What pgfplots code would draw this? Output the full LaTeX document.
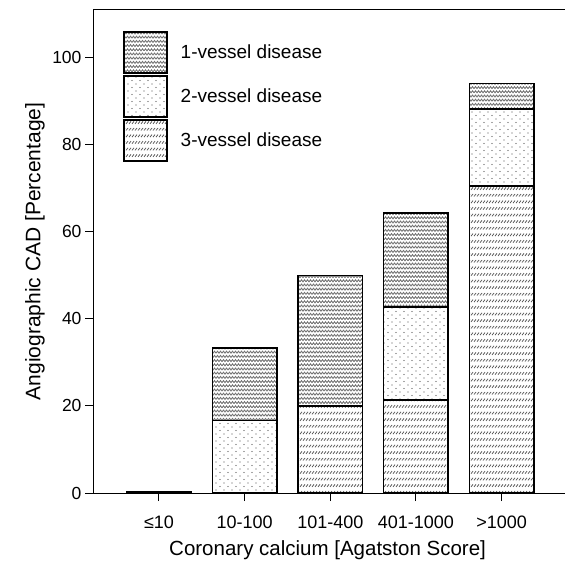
\documentclass[border=0pt]{standalone}
\usepackage{fontspec}
\setmainfont{Liberation Sans}
\usepackage{pgfplots}
\pgfplotsset{compat=1.18}
\usetikzlibrary{patterns}

% hatch patterns of the three groups
\pgfdeclarepatternformonly{zig}{\pgfqpoint{-1pt}{-1pt}}{\pgfqpoint{7pt}{5pt}}{\pgfqpoint{6pt}{4.2pt}}{
  \pgfsetlinewidth{0.85pt}
  \pgfpathmoveto{\pgfqpoint{0pt}{1pt}}
  \pgfpathlineto{\pgfqpoint{1.5pt}{3pt}}
  \pgfpathlineto{\pgfqpoint{3pt}{1pt}}
  \pgfpathlineto{\pgfqpoint{4.5pt}{3pt}}
  \pgfpathlineto{\pgfqpoint{6pt}{1pt}}
  \pgfusepath{stroke}
}
\pgfdeclarepatternformonly{dotsp}{\pgfqpoint{-1pt}{-1pt}}{\pgfqpoint{9pt}{8pt}}{\pgfqpoint{8pt}{7pt}}{
  \pgfpathcircle{\pgfqpoint{0pt}{0pt}}{0.55pt}
  \pgfpathcircle{\pgfqpoint{4pt}{3.5pt}}{0.55pt}
  \pgfusepath{fill}
}
\pgfdeclarepatternformonly{hsh}{\pgfqpoint{-1pt}{-1pt}}{\pgfqpoint{4pt}{7pt}}{\pgfqpoint{3pt}{6.6pt}}{
  \pgfsetlinewidth{0.75pt}
  \pgfpathmoveto{\pgfqpoint{0pt}{0.5pt}}
  \pgfpathlineto{\pgfqpoint{2pt}{3pt}}
  \pgfusepath{stroke}
}

\begin{document}
\begin{tikzpicture}
\useasboundingbox (0,0) rectangle (565pt,560pt);
\begin{axis}[
    at={(93pt,67pt)}, anchor=south west,
    scale only axis,
    width=472pt, height=483pt,
    ybar stacked,
    bar width=64.5pt,
    xmin=-0.77, xmax=4.74,
    ymin=0, ymax=111,
    clip=false,
    axis x line*=box, axis y line*=left,
    axis line style={line width=1pt},
    xtick=data,
    xticklabels={≤10,10-100,101-400,401-1000,>1000},
    ytick={0,20,...,100},
    tick align=outside,
    major tick length=8pt,
    tick style={line width=1pt, black},
    xtick pos=bottom, ytick pos=left,
    /pgf/number format/assume math mode=true,
    xticklabel style={font=\fontsize{18}{20}\selectfont, yshift=-11pt},
    yticklabel style={font=\fontsize{17.5}{20}\selectfont},
    xlabel={Coronary calcium [Agatston Score]},
    ylabel={Angiographic CAD [Percentage]},
    xlabel style={font=\fontsize{20.5}{24}\selectfont, at={(axis description cs:0.497,-0.119)}, anchor=center},
    ylabel style={font=\fontsize{21}{24}\selectfont, at={(axis description cs:-0.123,0.5)}, anchor=center},
    legend image code/.code={\draw[#1] (0pt,-20.5pt) rectangle (43pt,20.5pt);},
    reverse legend,
    legend style={draw=none, fill=none, inner sep=0pt,
        at={(axis description cs:0.0636,0.956)}, anchor=north west,
        font=\fontsize{19}{22}\selectfont, row sep=1.5pt, column sep=13pt,
        nodes={inner sep=0pt}},
    every axis plot/.append style={draw=black, line width=1.5pt},
]
% 3-vessel disease
\addplot[pattern=hsh, pattern color=black!65] coordinates {(0,0.3) (1,0) (2,20) (3,21.4) (4,70.6)};
% 2-vessel disease
\addplot[pattern=dotsp, pattern color=black!70] coordinates {(0,0) (1,16.7) (2,0) (3,21.4) (4,17.6)};
% 1-vessel disease
\addplot[pattern=zig, pattern color=black!55] coordinates {(0,0) (1,16.6) (2,30) (3,21.5) (4,5.9)};
\legend{3-vessel disease,2-vessel disease,1-vessel disease}
\end{axis}
\end{tikzpicture}
\end{document}
